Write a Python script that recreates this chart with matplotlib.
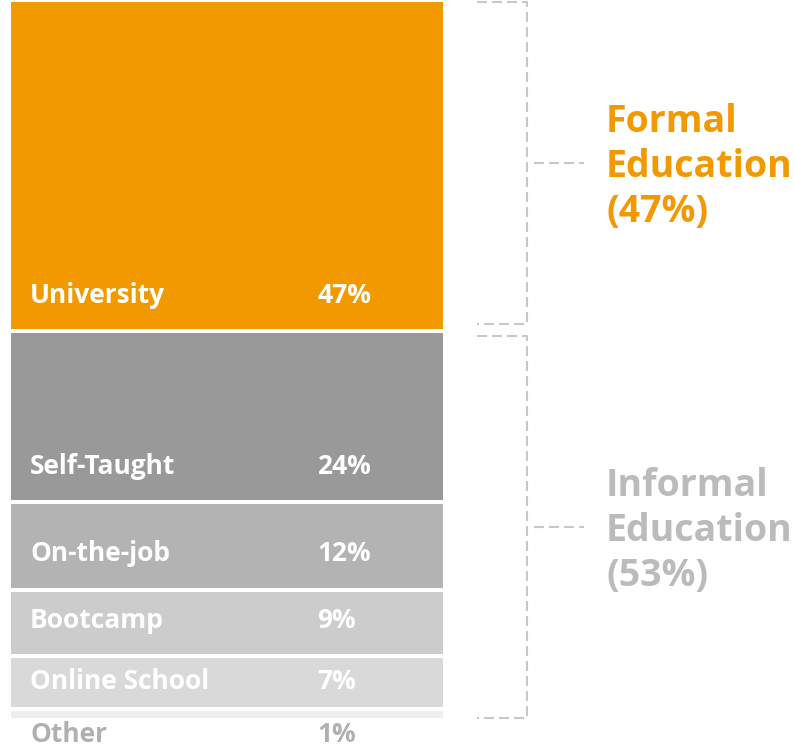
import numpy as np
import matplotlib.pyplot as plt

categories = ["University", "Self-Taught", "On-the-job", "Bootcamp", "Online School", "Other"]
shares = [47, 24, 12, 9, 7, 1]
colors = ["#f29900", "#999999", "#b3b3b3", "#cccccc", "#d9d9d9", "#eeeeee"]
label_colors = ["white", "white", "white", "white", "white", "#b0b0b0"]

groups = ["Formal\nEducation\n(47%)", "Informal\nEducation\n(53%)"]
group_members = [[0], [1, 2, 3, 4, 5]]
group_colors = ["#f29900", "#bbbbbb"]

plt.rcParams['font.family'] = ['Open Sans', 'DejaVu Sans']

W, H = 794, 746
px = 6.96        # pixels per percent
gap = 4 / px     # white gap between segments, in percent

fig = plt.figure(figsize=(W / 100, H / 100), dpi=100)
ax = fig.add_axes([0, 0, 1, 1])
ax.set_xlim(0, W)
ax.set_ylim((H - 2) / px, -2 / px)
ax.axis('off')

vals = np.array(shares, dtype=float)
tops = np.concatenate([[0], np.cumsum(vals)[:-1]]) + np.arange(len(vals)) * gap
bottoms = tops + vals

ax.bar(11, vals, bottom=tops, width=432, align='edge', color=colors, linewidth=0)

for i, name in enumerate(categories):
    # label sits ~34px above segment bottom, but never closer than 24px to its top
    yc = max(bottoms[i] - 34 / px, tops[i] + 23 / px)
    ax.text(30, yc, name, color=label_colors[i], fontsize=19, fontweight='bold',
            va='center', ha='left')
    ax.text(317, yc, f"{shares[i]}%", color=label_colors[i], fontsize=19,
            fontweight='bold', va='center', ha='left')

dash = dict(color="#c8c8c8", lw=1.5, linestyle=(0, (4.8, 2.4)))
insets = [(0, 0.7), (0.4, 0)]
for g, members in enumerate(group_members):
    y0 = tops[members[0]] + insets[g][0]
    y1 = bottoms[members[-1]] - insets[g][1]
    ax.plot([477, 527, 527, 477], [y0, y0, y1, y1], **dash)
    ym = (y0 + y1) / 2
    ax.plot([534, 584], [ym, ym], **dash)
    ax.text(606, ym + 4 / px, groups[g], color=group_colors[g], fontsize=27,
            fontweight='bold', va='center', ha='left', linespacing=1.24)

fig.savefig("out.png", dpi=100)
